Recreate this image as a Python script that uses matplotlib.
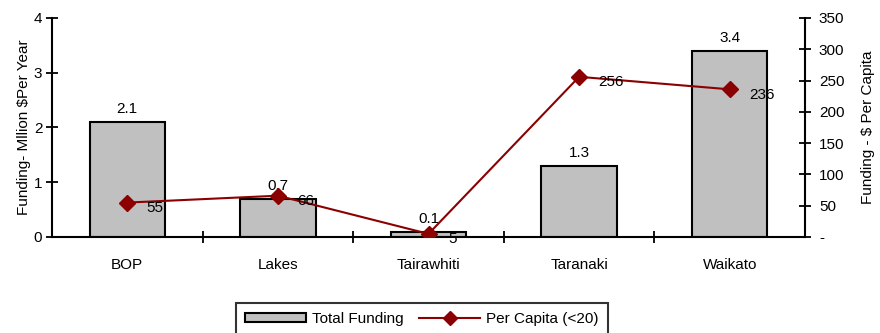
import matplotlib
matplotlib.use("Agg")
import matplotlib.pyplot as plt
from matplotlib.ticker import FixedLocator, FuncFormatter
from matplotlib.lines import Line2D
from matplotlib.patches import Patch

regions = ["BOP", "Lakes", "Tairawhiti", "Taranaki", "Waikato"]
total_funding = [2.1, 0.7, 0.1, 1.3, 3.4]
per_capita = [55, 66, 5, 256, 236]
left_ticks = [0, 1, 2, 3, 4]
right_ticks = [0, 50, 100, 150, 200, 250, 300, 350]

plt.rcParams["font.family"] = ["Liberation Sans", "DejaVu Sans"]
plt.rcParams["font.size"] = 11

fig = plt.figure(figsize=(8.8, 3.33), dpi=100)
ax = fig.add_axes([52 / 880, 1 - 237 / 333, 753 / 880, 219 / 333])
ax2 = ax.twinx()

x = list(range(len(regions)))
bar_color = "#c0c0c0"
line_color = "#8b0000"

ax.bar(x, total_funding, width=0.5, color=bar_color, edgecolor="black", linewidth=1.5, zorder=2)
for xi, v in zip(x, total_funding):
    ax.annotate(f"{v:.1f}", (xi, v), xytext=(0, 4), textcoords="offset points",
                ha="center", va="bottom", fontsize=11)

ax.set_xlim(-0.5, len(regions) - 0.5)
ax.set_ylim(0, 4)
ax.yaxis.set_major_locator(FixedLocator(left_ticks))
ax.set_xticks(x)
ax.set_xticklabels(regions)
ax.set_xticks([i + 0.5 for i in range(len(regions) - 1)], minor=True)
ax.tick_params(axis="x", which="major", length=0, pad=15)
ax.tick_params(axis="x", which="minor", length=8, width=1.3, direction="inout")
ax.tick_params(axis="y", length=8, width=1.3, direction="inout", pad=3)
ax.set_ylabel("Funding- Mllion $Per Year", fontsize=11, labelpad=2)

ax2.plot(x, per_capita, color=line_color, linewidth=1.5, marker="D", markersize=8,
         markerfacecolor=line_color, markeredgecolor=line_color, zorder=3)
for xi, v in zip(x, per_capita):
    ax2.annotate(f"{v}", (xi, v), xytext=(14, -4), textcoords="offset points",
                 ha="left", va="center", fontsize=11)
ax2.set_ylim(0, 350)
ax2.yaxis.set_major_locator(FixedLocator(right_ticks))
ax2.yaxis.set_major_formatter(FuncFormatter(lambda v, p: "-" if v == 0 else f"{int(v)}"))
ax2.tick_params(axis="y", length=8, width=1.3, direction="inout", pad=6)
ax2.set_ylabel("Funding - $ Per Capita", fontsize=11, labelpad=12)

for a in (ax, ax2):
    a.spines["top"].set_visible(False)
    for s in ("left", "right", "bottom"):
        a.spines[s].set_linewidth(1.5)
ax.spines["right"].set_visible(False)
ax2.spines["left"].set_visible(False)
ax2.spines["bottom"].set_visible(False)
ax.set_zorder(1)
ax2.set_zorder(2)
ax.patch.set_visible(False)

handles = [
    Patch(facecolor=bar_color, edgecolor="black", linewidth=1.5, label="Total Funding"),
    Line2D([0], [0], color=line_color, linewidth=1.5, marker="D", markersize=7,
           markerfacecolor=line_color, label="Per Capita (<20)"),
]
leg = fig.legend(handles=handles, loc="lower center", bbox_to_anchor=(422 / 880, -0.03),
                 ncol=2, frameon=True, fancybox=False, edgecolor="black",
                 handlelength=4.0, handleheight=0.5, columnspacing=1.0, handletextpad=0.4,
                 borderpad=0.6, fontsize=11)
leg.get_frame().set_linewidth(1.5)

fig.savefig("out.png", dpi=100)
